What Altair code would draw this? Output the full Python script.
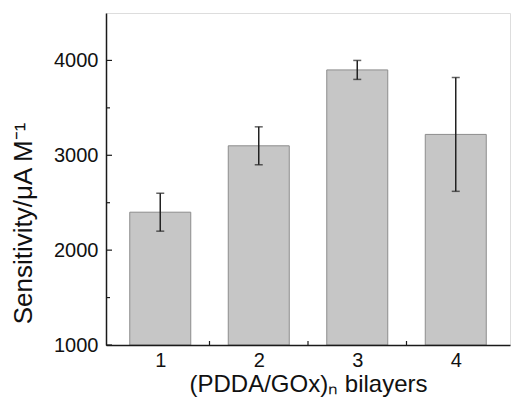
import altair as alt
import pandas as pd

layers = [1, 2, 3, 4]
sensitivity = [2400, 3100, 3900, 3220]
error = [200, 200, 100, 600]

y_major = [1000, 2000, 3000, 4000]
y_minor = [1500, 2500, 3500]
x_major = [1, 2, 3, 4]
x_minor = [1.5, 2.5, 3.5]

df = pd.DataFrame({"n": layers, "s": sensitivity, "e": error})
df["lo"] = df["s"] - df["e"]
df["hi"] = df["s"] + df["e"]

W, H = 404, 332
FONT = "Liberation Sans"

xs = alt.Scale(domain=[0.5, 4.5], nice=False, zero=False)
ys = alt.Scale(domain=[1000, 4500], nice=False, zero=False)

base = alt.Chart(df)

bars = base.mark_bar(size=61, color="#c6c6c6", stroke="#8c8c8c", strokeWidth=1).encode(
    x=alt.X("n:Q", scale=xs,
            axis=alt.Axis(values=x_major, format="d", ticks=False, grid=False,
                          labelFont=FONT, labelFontSize=20, labelColor="#111",
                          labelPadding=5, domainColor="#1a1a1a", domainWidth=1.5,
                          title="(PDDA/GOx)ₙ bilayers", titleFont=FONT, titleFontSize=24,
                          titleFontWeight="normal", titleColor="#111",
                          titleBaseline="alphabetic", titleY=46, zindex=1)),
    y=alt.Y("s:Q", scale=ys,
            axis=alt.Axis(values=y_major, format="d", ticks=False, grid=False,
                          labelFont=FONT, labelFontSize=20, labelColor="#111",
                          labelPadding=8, domainColor="#1a1a1a", domainWidth=1.5,
                          title="Sensitivity/μA M⁻¹", titleFont=FONT, titleFontSize=26,
                          titleFontWeight="normal", titleColor="#111",
                          titleAngle=-90, titleBaseline="middle", titleAlign="center",
                          titleX=-83, titleY=210, zindex=1)),
    y2=alt.datum(1000),
)

err_rule = base.mark_rule(color="#222", strokeWidth=1.5).encode(
    x=alt.X("n:Q", scale=xs), y=alt.Y("lo:Q", scale=ys), y2="hi:Q")
cap_lo = base.mark_tick(orient="horizontal", size=8, thickness=1.5, color="#222").encode(
    x=alt.X("n:Q", scale=xs), y=alt.Y("lo:Q", scale=ys))
cap_hi = base.mark_tick(orient="horizontal", size=8, thickness=1.5, color="#222").encode(
    x=alt.X("n:Q", scale=xs), y=alt.Y("hi:Q", scale=ys))

ymaj = alt.Chart(pd.DataFrame({"v": y_major})).mark_rule(color="#1a1a1a", strokeWidth=1.2).encode(
    y=alt.Y("v:Q", scale=ys), x=alt.value(0), x2=alt.value(6))
ymin = alt.Chart(pd.DataFrame({"v": y_minor})).mark_rule(color="#1a1a1a", strokeWidth=1.2).encode(
    y=alt.Y("v:Q", scale=ys), x=alt.value(0), x2=alt.value(4))
xmaj = alt.Chart(pd.DataFrame({"v": x_major})).mark_rule(color="#1a1a1a", strokeWidth=1.2).encode(
    x=alt.X("v:Q", scale=xs), y=alt.value(H), y2=alt.value(H - 6))
xmin = alt.Chart(pd.DataFrame({"v": x_minor})).mark_rule(color="#1a1a1a", strokeWidth=1.2).encode(
    x=alt.X("v:Q", scale=xs), y=alt.value(H), y2=alt.value(H - 4))

chart = alt.layer(xmaj, bars, err_rule, cap_lo, cap_hi, ymaj, ymin, xmin).properties(
    width=W, height=H,
    autosize=alt.AutoSizeParams(type="none"),
    padding={"left": 98, "top": 5, "right": 1, "bottom": 53},
).configure_view(stroke="#1a1a1a", strokeWidth=1.5).configure(background="white")

chart.save("out.html", embed_options={"renderer": "svg", "actions": False})
